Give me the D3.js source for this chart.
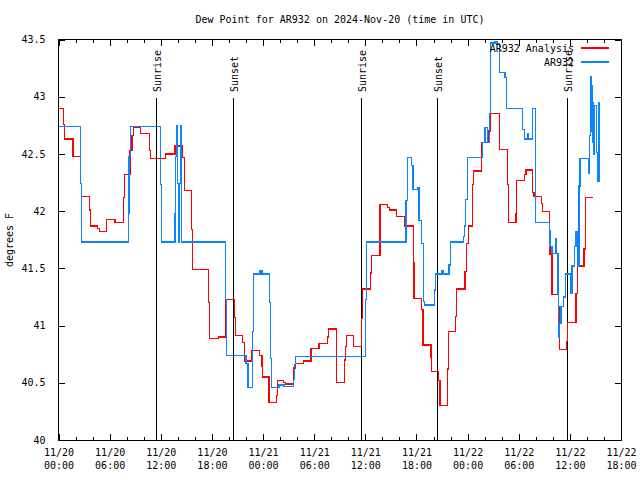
<!DOCTYPE html>
<html><head><meta charset="utf-8">
<script src="https://cdn.jsdelivr.net/npm/d3@7"></script>
<style>
body{margin:0;background:#fff;}
text{font-family:"DejaVu Sans Mono","Liberation Mono",monospace;font-size:10px;fill:#000;}
</style></head>
<body><svg id="c" width="640" height="480"></svg>
<script>
// hours since 2024-11-20 00:00 UTC
const analysisHours = [0,0.56,0.68,1.70,2.58,2.70,3.61,3.73,4.60,4.79,5.61,6.63,7.60,7.72,8.39,8.62,8.82,9.64,10.65,10.82,12.58,13.67,14.53,14.76,15.63,15.70,17.58,17.69,18.75,19.65,20.63,20.74,21.61,21.80,22.67,23.56,23.88,23.96,24.70,25.60,25.72,26.38,26.66,27.55,27.83,28.72,29.63,30.57,31.59,31.70,32.60,33.53,33.65,33.82,34.59,35.58,35.67,36.63,36.73,37.72,38.58,38.81,39.69,40.66,41.63,41.71,42.62,42.77,43.71,43.79,44.56,44.76,45.67,45.76,46.58,46.72,47.69,47.87,48.11,48.60,48.69,49.66,50.43,50.63,51.72,52.71,52.78,53.68,53.76,54.65,54.85,55.64,55.79,56.70,56.81,57.59,57.67,57.90,58.64,58.76,59.63,59.75,60.72,60.87,61.66,61.86,62.68];
const analysisValues = [42.90,42.76,42.63,42.48,42.24,42.13,42.01,41.87,41.85,41.82,41.93,41.90,42.12,42.32,42.53,42.66,42.73,42.68,42.53,42.46,42.50,42.57,42.47,42.18,41.84,41.49,41.20,40.89,40.90,41.23,41.07,40.91,40.85,40.69,40.78,40.74,40.64,40.55,40.33,40.39,40.52,40.50,40.49,40.63,40.67,40.69,40.80,40.84,40.90,40.97,40.50,40.70,40.82,40.91,40.82,41.06,41.32,41.46,41.61,42.06,42.03,42.01,41.95,41.87,41.55,41.24,41.14,40.83,40.72,40.60,40.52,40.30,40.62,40.95,41.08,41.32,41.47,41.72,41.87,42.23,42.35,42.60,42.70,42.85,42.54,42.23,41.90,41.98,42.27,42.32,42.36,42.16,42.13,42.07,42.00,41.83,41.62,41.27,41.17,40.79,40.86,41.03,41.28,41.52,41.67,42.12,42.12];

const obsHours = [0,2.60,2.68,8.19,8.27,8.42,11.94,12.06,13.67,13.75,13.87,13.99,14.06,14.17,14.29,14.43,19.59,19.74,22.00,22.23,22.74,22.86,23.64,23.88,24.73,24.87,24.99,25.87,26.46,27.55,27.67,27.83,36.04,36.17,40.77,40.93,41.44,41.59,42.15,42.30,42.59,42.80,42.92,44.09,44.26,44.94,45.11,45.82,45.97,47.52,47.64,47.79,47.97,49.75,50.04,50.34,50.57,50.71,51.22,51.45,51.74,52.39,52.59,54.47,54.65,55.03,55.12,55.64,55.97,57.59,57.67,57.90,58.34,58.46,58.61,58.67,58.76,58.96,59.23,59.46,60.13,60.25,60.56,60.72,60.87,61.07,61.19,62.16,62.28,62.40,62.48,62.55,62.62,62.70,62.81,62.93,63.11,63.25,63.42,63.54];
const obsValues = [42.74,42.24,41.73,41.98,42.48,42.74,42.23,41.73,41.98,42.48,42.75,42.24,41.73,42.24,42.75,41.73,41.23,40.74,40.67,40.46,40.95,41.45,41.48,41.45,41.20,40.71,40.46,40.48,40.47,40.53,40.66,40.73,41.23,41.73,42.09,42.47,42.40,42.19,42.21,41.92,41.72,41.21,41.18,41.31,41.45,41.48,41.45,41.53,41.73,41.78,41.87,42.10,42.47,42.60,42.73,42.60,42.85,43.47,43.48,43.46,43.21,43.17,42.90,42.71,42.63,42.68,42.63,42.90,41.90,41.83,41.69,41.63,41.76,41.63,41.28,40.90,41.02,41.17,41.25,41.45,41.28,41.52,41.69,41.82,41.52,42.22,42.46,42.33,42.66,43.18,42.70,43.10,42.60,42.95,42.50,42.92,42.51,42.26,42.95,42.95];

const sunHours = [11.49,20.52,35.54,44.46,59.61];
const sunLabels = ["Sunrise","Sunset","Sunrise","Sunset","Sunrise"];
const yTicks = [40,40.5,41,41.5,42,42.5,43,43.5];
const xTickHours = [0,6,12,18,24,30,36,42,48,54,60,66];
const seriesNames = ["AR932 Analysis","AR932"];
const seriesColors = ["#ff0000","#0a84ff"];

const t0 = Date.UTC(2024,10,20);
const toDate = h => new Date(t0 + h*3600e3);
const svg = d3.select("#c");
const L=58.5,R=621,T=39.5,B=440;
const x = d3.scaleUtc().domain([toDate(0),toDate(66)]).range([L,R]);
const y = d3.scaleLinear().domain([40,43.5]).range([B,T]);

// axes
const majors = xTickHours.map(toDate);
const minors = d3.range(0,67,2).filter(h=>h%6!==0).map(toDate);
const fmt1 = d3.utcFormat("%m/%d"), fmt2 = d3.utcFormat("%H:%M");
function clean(g){g.select(".domain").remove();g.selectAll("line").attr("stroke","#000").attr("shape-rendering","crispEdges");}
svg.append("g").attr("transform",`translate(0,${B})`)
  .call(d3.axisBottom(x).tickValues(majors).tickSize(-6).tickPadding(9).tickFormat(fmt1))
  .call(clean)
  .call(g=>g.selectAll("text").each(function(d){
    const t=d3.select(this); t.text(null);
    t.append("tspan").attr("x",0).attr("dy","0.71em").text(fmt1(d));
    t.append("tspan").attr("x",0).attr("dy","1.3em").text(fmt2(d));
  }));
svg.append("g").attr("transform",`translate(0,${B})`).call(d3.axisBottom(x).tickValues(minors).tickSize(-3).tickFormat("")).call(clean);
svg.append("g").attr("transform",`translate(0,${T})`).call(d3.axisTop(x).tickValues(majors).tickSize(-6).tickFormat("")).call(clean);
svg.append("g").attr("transform",`translate(0,${T})`).call(d3.axisTop(x).tickValues(minors).tickSize(-3).tickFormat("")).call(clean);
svg.append("g").attr("transform",`translate(${L},0)`)
  .call(d3.axisLeft(y).tickValues(yTicks).tickSize(-6).tickPadding(13).tickFormat(d3.format("~")))
  .call(clean);
svg.append("g").attr("transform",`translate(${R},0)`).call(d3.axisRight(y).tickValues(yTicks).tickSize(-6).tickFormat("")).call(clean);

// sunrise/sunset
const sg = svg.append("g");
sunHours.forEach((h,i)=>{
  const xx = Math.round(x(toDate(h)))+0.5;
  sg.append("line").attr("x1",xx).attr("x2",xx).attr("y1",98).attr("y2",B)
    .attr("stroke","#000").attr("shape-rendering","crispEdges");
  sg.append("text").attr("transform",`translate(${xx+4},92) rotate(-90)`).attr("text-anchor","start").text(sunLabels[i]);
});

// series
const line = d3.line().x(d=>x(toDate(d[0]))).y(d=>y(d[1])).curve(d3.curveStepAfter);
const aData = analysisHours.map((h,i)=>[h,analysisValues[i]]);
const oData = obsHours.map((h,i)=>[h,obsValues[i]]);
svg.append("path").attr("d",line(aData)).attr("fill","none").attr("stroke",seriesColors[0]).attr("stroke-width",1.2).attr("shape-rendering","crispEdges");
svg.append("path").attr("d",line(oData)).attr("fill","none").attr("stroke",seriesColors[1]).attr("stroke-width",1.2).attr("shape-rendering","crispEdges");

// frame
svg.append("rect").attr("x",L).attr("y",T).attr("width",R-L).attr("height",B-T).attr("fill","none").attr("stroke","#000").attr("shape-rendering","crispEdges");

// legend
seriesNames.forEach((n,i)=>{
  const yy = 48 + i*14;
  svg.append("text").attr("x",574).attr("y",yy).attr("dy","0.35em").attr("text-anchor","end").text(n);
  svg.append("line").attr("x1",581).attr("x2",609).attr("y1",yy).attr("y2",yy).attr("stroke",seriesColors[i]).attr("stroke-width",1.2).attr("shape-rendering","crispEdges");
});

// titles
svg.append("text").attr("x",340).attr("y",23).attr("text-anchor","middle").text("Dew Point for AR932 on 2024-Nov-20 (time in UTC)");
svg.append("text").attr("transform","translate(13,240) rotate(-90)").attr("text-anchor","middle").text("degrees F");
</script></body></html>
